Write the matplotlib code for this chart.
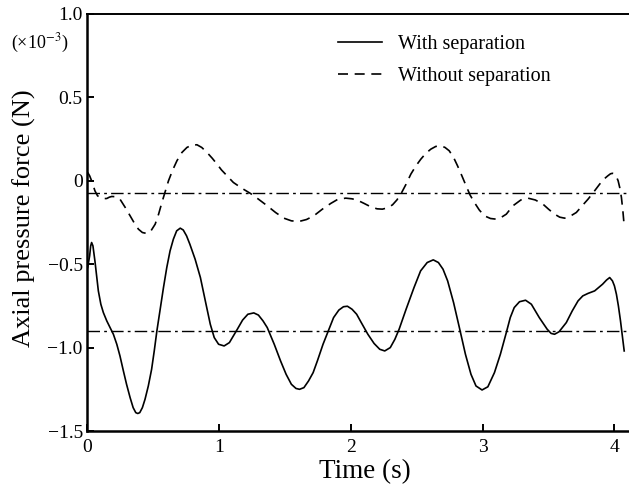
import matplotlib
matplotlib.use("Agg")
import matplotlib.pyplot as plt

plt.rcParams['font.family'] = ['Liberation Serif', 'DejaVu Serif']
plt.rcParams['mathtext.fontset'] = 'stix'

# time (s) and axial pressure force (x1e-3 N)
t_with = [0.005, 0.02, 0.028, 0.035, 0.045, 0.06, 0.086, 0.105, 0.124, 0.15, 0.175, 0.2,
          0.226, 0.25, 0.276, 0.3, 0.327, 0.35, 0.37, 0.385, 0.40, 0.42, 0.44, 0.465,
          0.49, 0.51, 0.53, 0.555, 0.58, 0.605, 0.63, 0.655, 0.68, 0.707, 0.73, 0.755,
          0.78, 0.82, 0.86, 0.9, 0.935, 0.965, 0.998, 1.04, 1.08, 1.11, 1.14, 1.18,
          1.22, 1.265, 1.3, 1.335, 1.367, 1.42, 1.468, 1.51, 1.55, 1.585, 1.612, 1.645,
          1.68, 1.715, 1.747, 1.79, 1.835, 1.87, 1.91, 1.945, 1.975, 2.01, 2.045, 2.08,
          2.13, 2.177, 2.22, 2.258, 2.3, 2.335, 2.367, 2.42, 2.48, 2.53, 2.58, 2.626,
          2.665, 2.70, 2.735, 2.78, 2.824, 2.87, 2.912, 2.95, 2.996, 3.04, 3.09, 3.135,
          3.18, 3.21, 3.24, 3.28, 3.326, 3.37, 3.43, 3.49, 3.52, 3.546, 3.58, 3.635,
          3.68, 3.724, 3.76, 3.80, 3.85, 3.91, 3.94, 3.964, 3.985, 4.0, 4.015, 4.03,
          4.046, 4.06, 4.074]
f_with = [-0.52, -0.45, -0.39, -0.37, -0.39, -0.48, -0.66, -0.74, -0.79, -0.84, -0.88, -0.92,
          -0.98, -1.05, -1.14, -1.22, -1.30, -1.36, -1.39, -1.395, -1.39, -1.36, -1.31, -1.23,
          -1.13, -1.02, -0.90, -0.77, -0.64, -0.52, -0.42, -0.35, -0.30, -0.284, -0.295, -0.33,
          -0.38, -0.47, -0.58, -0.73, -0.86, -0.94, -0.98, -0.99, -0.97, -0.93, -0.89, -0.835,
          -0.80, -0.792, -0.805, -0.84, -0.88, -0.98, -1.08, -1.16, -1.22, -1.245, -1.25, -1.24,
          -1.20, -1.15, -1.08, -0.98, -0.89, -0.82, -0.775, -0.755, -0.752, -0.77, -0.80, -0.85,
          -0.92, -0.975, -1.01, -1.02, -1.00, -0.95, -0.89, -0.77, -0.64, -0.54, -0.49, -0.474,
          -0.49, -0.53, -0.60, -0.73, -0.88, -1.04, -1.16, -1.23, -1.254, -1.235, -1.15, -1.04,
          -0.91, -0.82, -0.76, -0.725, -0.716, -0.74, -0.82, -0.89, -0.915, -0.92, -0.905, -0.85,
          -0.78, -0.72, -0.69, -0.675, -0.66, -0.62, -0.595, -0.58, -0.60, -0.63, -0.68, -0.75,
          -0.84, -0.93, -1.02]

t_without = [0.005, 0.02, 0.04, 0.06, 0.08, 0.10, 0.125, 0.15, 0.17, 0.188, 0.21, 0.23,
             0.25, 0.29, 0.327, 0.36, 0.39, 0.42, 0.454, 0.485, 0.517, 0.543, 0.568, 0.593,
             0.618, 0.65, 0.682, 0.72, 0.758, 0.795, 0.834, 0.87, 0.91, 0.95, 0.986, 1.02,
             1.05, 1.11, 1.175, 1.24, 1.30, 1.367, 1.43, 1.493, 1.55, 1.607, 1.665, 1.72,
             1.785, 1.848, 1.90, 1.962, 2.01, 2.05, 2.10, 2.152, 2.20, 2.24, 2.28, 2.317,
             2.35, 2.38, 2.42, 2.456, 2.495, 2.532, 2.57, 2.608, 2.645, 2.684, 2.715, 2.747,
             2.78, 2.81, 2.843, 2.875, 2.905, 2.938, 2.975, 3.014, 3.06, 3.103, 3.14, 3.18,
             3.23, 3.29, 3.344, 3.40, 3.458, 3.50, 3.546, 3.585, 3.622, 3.665, 3.711, 3.755,
             3.80, 3.845, 3.888, 3.92, 3.95, 3.97, 3.985, 4.0, 4.015, 4.028, 4.04, 4.053,
             4.064, 4.074]
f_without = [0.05, 0.03, -0.01, -0.06, -0.09, -0.10, -0.107, -0.106, -0.098, -0.094, -0.095, -0.10,
             -0.11, -0.16, -0.21, -0.255, -0.29, -0.31, -0.316, -0.30, -0.26, -0.20, -0.13, -0.065,
             0.0, 0.065, 0.12, 0.17, 0.20, 0.214, 0.216, 0.20, 0.17, 0.135, 0.10, 0.065,
             0.04, -0.01, -0.045, -0.076, -0.11, -0.15, -0.19, -0.224, -0.24, -0.244, -0.232, -0.21,
             -0.17, -0.136, -0.112, -0.104, -0.108, -0.116, -0.135, -0.156, -0.168, -0.17, -0.162, -0.144,
             -0.115, -0.08, -0.02, 0.04, 0.09, 0.13, 0.165, 0.19, 0.206, 0.21, 0.20, 0.18,
             0.14, 0.09, 0.03, -0.03, -0.085, -0.13, -0.175, -0.21, -0.226, -0.23, -0.22, -0.20,
             -0.15, -0.115, -0.104, -0.115, -0.14, -0.17, -0.20, -0.218, -0.224, -0.212, -0.19, -0.15,
             -0.11, -0.065, -0.02, 0.01, 0.03, 0.042, 0.045, 0.04, 0.025, 0.0, -0.04, -0.10,
             -0.18, -0.27]

mean_without = -0.075
mean_with = -0.90

legend_labels = ["With separation", "Without separation"]
xticks = [0, 1, 2, 3, 4]
yticks = [-1.5, -1.0, -0.5, 0, 0.5, 1.0]
yticklabels = ["\u22121.5", "\u22121.0", "\u22120.5", "0", "0.5", "1.0"]

fig = plt.figure(figsize=(6.29, 4.93), dpi=100)
ax = fig.add_axes([87/629, 1 - 431/493, 1 - 87/629 + 0.002, (431 - 14)/493])

ax.plot(t_with, f_with, color='black', lw=1.2, label=legend_labels[0])
ax.plot(t_without, f_without, color='black', lw=1.2, dashes=(6, 4), label=legend_labels[1])
ax.axhline(mean_without, color='black', lw=1.0, dashes=(9, 3, 2, 3))
ax.axhline(mean_with, color='black', lw=1.0, dashes=(9, 3, 2, 3))

ax.set_xlim(0, 4.12)
ax.set_ylim(-1.5, 1.0)
ax.set_xticks(xticks)
ax.set_yticks(yticks)
ax.set_yticklabels(yticklabels)
ax.tick_params(direction='in', length=5, width=1.4, labelsize=14, pad=3)
ax.tick_params(axis='x', pad=6)
for s in ['left', 'bottom']:
    ax.spines[s].set_linewidth(1.8)
ax.spines['top'].set_linewidth(1.4)
ax.spines['right'].set_visible(False)

ax.set_xlabel("Time (s)", fontsize=19.5)
ax.set_ylabel("Axial pressure force (N)", fontsize=19)
ax.xaxis.set_label_coords((364 - 87) / 542, -(478 - 431) / 417)
ax.xaxis.label.set_va('baseline')
ax.yaxis.set_label_coords(-(87 - 36) / 542, (431 - 218) / 417)
fig.text(40/629, 1 - 43/493, "(\u00d710$^{-3}$)", fontsize=13, ha='center', va='center')

leg = ax.legend(loc='upper left', bbox_to_anchor=((337 - 87) / 542, 1 - 21 / 417), frameon=False,
                fontsize=14.5, handlelength=2.2, handletextpad=0.8, labelspacing=0.62,
                borderpad=0, borderaxespad=0)

fig.savefig("out.png", dpi=100)
